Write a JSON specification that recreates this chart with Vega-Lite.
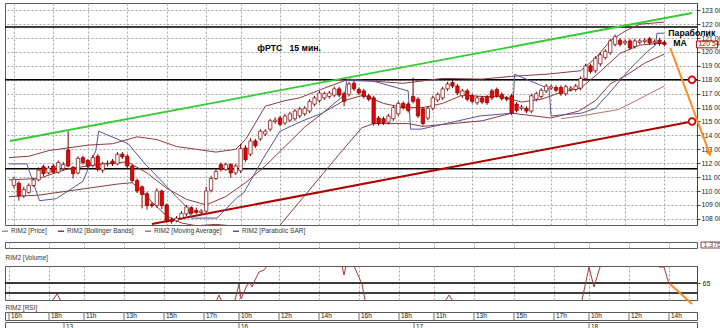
{
"$schema": "https://vega.github.io/schema/vega-lite/v6.json",
"background": "white",
"padding": {"left": 3, "top": 2, "right": 5, "bottom": -3},
"spacing": 4,
"resolve": {"legend": {"color": "independent"}},
"config": {"view": {"stroke": "#5a5a5a", "strokeWidth": 1}, "font": "Liberation Sans", "axis": {"labelOverlap": false, "labelBound": false}},
"datasets": {
"c": [
{"i":-11,"o":110400,"h":111000,"l":110200,"c":110850},
{"i":-10,"o":110550,"h":110700,"l":109300,"c":109650},
{"i":-9,"o":109650,"h":110300,"l":109500,"c":110100},
{"i":-8,"o":109900,"h":110550,"l":109800,"c":110400},
{"i":-7,"o":110400,"h":110950,"l":110300,"c":110800},
{"i":-6,"o":110800,"h":111700,"l":110700,"c":111500},
{"i":-5,"o":111750,"h":111900,"l":111100,"c":111250},
{"i":-4,"o":111300,"h":111800,"l":111200,"c":111650},
{"i":-3,"o":111800,"h":111950,"l":111250,"c":111350},
{"i":-2,"o":111350,"h":112200,"l":111250,"c":112050},
{"i":-1,"o":111600,"h":112100,"l":111500,"c":111900},
{"i":0,"o":112950,"h":114300,"l":111700,"c":111800},
{"i":1,"o":111700,"h":111800,"l":110900,"c":111250},
{"i":2,"o":111300,"h":112500,"l":111200,"c":112350},
{"i":3,"o":112400,"h":112550,"l":111900,"c":112050},
{"i":4,"o":112200,"h":112300,"l":111600,"c":111800},
{"i":5,"o":111850,"h":112600,"l":111700,"c":112400},
{"i":6,"o":112500,"h":112650,"l":111400,"c":111550},
{"i":7,"o":111500,"h":112100,"l":111300,"c":111950},
{"i":8,"o":111950,"h":112200,"l":111750,"c":112000},
{"i":9,"o":112150,"h":112300,"l":111800,"c":111950},
{"i":10,"o":111950,"h":112800,"l":111850,"c":112650},
{"i":11,"o":112650,"h":112800,"l":112300,"c":112450},
{"i":12,"o":112500,"h":112650,"l":111650,"c":111800},
{"i":13,"o":111800,"h":111900,"l":110600,"c":110750},
{"i":14,"o":110750,"h":110900,"l":109850,"c":110000},
{"i":15,"o":110300,"h":110400,"l":108750,"c":109750},
{"i":16,"o":109800,"h":109950,"l":108650,"c":108950},
{"i":17,"o":109050,"h":109200,"l":108800,"c":108950},
{"i":18,"o":108950,"h":110200,"l":108800,"c":110000},
{"i":19,"o":110000,"h":110100,"l":108700,"c":108950},
{"i":20,"o":109000,"h":109100,"l":107700,"c":107850},
{"i":21,"o":107950,"h":108100,"l":107650,"c":107800},
{"i":22,"o":107850,"h":108200,"l":107750,"c":108050},
{"i":23,"o":108050,"h":108550,"l":107950,"c":108400},
{"i":24,"o":108350,"h":109000,"l":108200,"c":108850},
{"i":25,"o":108800,"h":108900,"l":108300,"c":108400},
{"i":26,"o":108600,"h":108800,"l":108350,"c":108450},
{"i":27,"o":108450,"h":108700,"l":108350,"c":108550},
{"i":28,"o":108550,"h":110300,"l":108450,"c":110000},
{"i":29,"o":110050,"h":111100,"l":109900,"c":110900},
{"i":30,"o":110900,"h":111600,"l":110800,"c":111400},
{"i":31,"o":111900,"h":112050,"l":111400,"c":111550},
{"i":32,"o":111550,"h":112050,"l":111450,"c":111900},
{"i":33,"o":111900,"h":112000,"l":110950,"c":111300},
{"i":34,"o":111300,"h":111950,"l":111150,"c":111800},
{"i":35,"o":111450,"h":113400,"l":111300,"c":113050},
{"i":36,"o":113100,"h":113300,"l":112100,"c":112250},
{"i":37,"o":112650,"h":113800,"l":112500,"c":113600},
{"i":38,"o":113600,"h":113750,"l":113100,"c":113250},
{"i":39,"o":113750,"h":114450,"l":113600,"c":114300},
{"i":40,"o":114100,"h":114450,"l":113950,"c":114300},
{"i":41,"o":114450,"h":115200,"l":114300,"c":115050},
{"i":42,"o":115000,"h":115300,"l":114850,"c":115100},
{"i":43,"o":115250,"h":115400,"l":114650,"c":114800},
{"i":44,"o":114900,"h":115550,"l":114750,"c":115400},
{"i":45,"o":115100,"h":115700,"l":114950,"c":115550},
{"i":46,"o":115200,"h":115900,"l":115050,"c":115750},
{"i":47,"o":115400,"h":116050,"l":115250,"c":115900},
{"i":48,"o":115550,"h":116100,"l":115400,"c":115950},
{"i":49,"o":115750,"h":116600,"l":115600,"c":116450},
{"i":50,"o":116250,"h":116850,"l":116100,"c":116700},
{"i":51,"o":116500,"h":117200,"l":116350,"c":117050},
{"i":52,"o":116700,"h":117150,"l":116550,"c":117000},
{"i":53,"o":116800,"h":117200,"l":116650,"c":117050},
{"i":54,"o":116900,"h":117500,"l":116750,"c":117350},
{"i":55,"o":117350,"h":117500,"l":116750,"c":116900},
{"i":56,"o":117000,"h":117150,"l":116100,"c":116450},
{"i":57,"o":116950,"h":117850,"l":116800,"c":117700},
{"i":58,"o":117750,"h":117950,"l":117200,"c":117350},
{"i":59,"o":117300,"h":117450,"l":116900,"c":117050},
{"i":60,"o":117200,"h":117350,"l":116650,"c":116800},
{"i":61,"o":116850,"h":117000,"l":116450,"c":116600},
{"i":62,"o":116700,"h":116850,"l":114700,"c":114850},
{"i":63,"o":115250,"h":115400,"l":114700,"c":114850},
{"i":64,"o":115200,"h":115350,"l":114750,"c":114900},
{"i":65,"o":114950,"h":115550,"l":114800,"c":115400},
{"i":66,"o":115200,"h":116150,"l":115050,"c":116000},
{"i":67,"o":115550,"h":116450,"l":115400,"c":116300},
{"i":68,"o":116300,"h":116450,"l":115850,"c":116000},
{"i":69,"o":116250,"h":116400,"l":115650,"c":115800},
{"i":70,"o":116800,"h":118150,"l":116300,"c":116450},
{"i":71,"o":116600,"h":116750,"l":115250,"c":115400},
{"i":72,"o":115900,"h":116050,"l":114700,"c":114850},
{"i":73,"o":115250,"h":116100,"l":115100,"c":115950},
{"i":74,"o":115950,"h":116850,"l":115800,"c":116700},
{"i":75,"o":116550,"h":117100,"l":116400,"c":116950},
{"i":76,"o":116700,"h":117500,"l":116550,"c":117350},
{"i":77,"o":117350,"h":117850,"l":117200,"c":117700},
{"i":78,"o":117800,"h":118100,"l":117400,"c":117550},
{"i":79,"o":117550,"h":117700,"l":116900,"c":117050},
{"i":80,"o":116850,"h":117350,"l":116700,"c":117200},
{"i":81,"o":117200,"h":117350,"l":116450,"c":116600},
{"i":82,"o":116850,"h":117000,"l":116300,"c":116450},
{"i":83,"o":116350,"h":116850,"l":116200,"c":116700},
{"i":84,"o":116700,"h":116850,"l":116250,"c":116400},
{"i":85,"o":116750,"h":116900,"l":116200,"c":116350},
{"i":86,"o":117200,"h":117350,"l":116550,"c":116700},
{"i":87,"o":117300,"h":117450,"l":116700,"c":116850},
{"i":88,"o":116950,"h":117100,"l":116500,"c":116650},
{"i":89,"o":116700,"h":116850,"l":116450,"c":116600},
{"i":90,"o":116850,"h":117000,"l":115450,"c":115600},
{"i":91,"o":116250,"h":116400,"l":115650,"c":115800},
{"i":92,"o":115950,"h":116200,"l":115800,"c":116050},
{"i":93,"o":115950,"h":116100,"l":115600,"c":115750},
{"i":94,"o":115750,"h":117000,"l":115600,"c":116850},
{"i":95,"o":116600,"h":117150,"l":116450,"c":117000},
{"i":96,"o":116800,"h":117400,"l":116650,"c":117250},
{"i":97,"o":117200,"h":117700,"l":117050,"c":117550},
{"i":98,"o":117400,"h":117650,"l":117250,"c":117500},
{"i":99,"o":117450,"h":117600,"l":117100,"c":117250},
{"i":100,"o":117450,"h":117600,"l":116850,"c":117000},
{"i":101,"o":117000,"h":117650,"l":116850,"c":117500},
{"i":102,"o":117300,"h":117550,"l":117150,"c":117400},
{"i":103,"o":117300,"h":117700,"l":117150,"c":117550},
{"i":104,"o":117400,"h":118250,"l":117250,"c":118100},
{"i":105,"o":118100,"h":119150,"l":117950,"c":119000},
{"i":106,"o":119000,"h":119150,"l":118450,"c":118600},
{"i":107,"o":118650,"h":119700,"l":118500,"c":119550},
{"i":108,"o":119150,"h":119950,"l":119000,"c":119800},
{"i":109,"o":119600,"h":120200,"l":119450,"c":120050},
{"i":110,"o":119950,"h":120950,"l":119800,"c":120800},
{"i":111,"o":120550,"h":121250,"l":120400,"c":121100},
{"i":112,"o":120850,"h":121000,"l":120400,"c":120550},
{"i":113,"o":120650,"h":120900,"l":120500,"c":120750},
{"i":114,"o":120800,"h":120950,"l":120150,"c":120300},
{"i":115,"o":120400,"h":120950,"l":120250,"c":120800},
{"i":116,"o":120700,"h":120950,"l":120550,"c":120800},
{"i":117,"o":120750,"h":121000,"l":120600,"c":120850},
{"i":118,"o":120950,"h":121100,"l":120500,"c":120650},
{"i":119,"o":120650,"h":120900,"l":120500,"c":120750},
{"i":120,"o":120850,"h":121000,"l":120450,"c":120600},
{"i":121,"o":120700,"h":120850,"l":120400,"c":120540}
],
"bbu": [{"i":-12,"v":112400},{"i":-8,"v":112500},{"i":-4,"v":112900},{"i":0,"v":113100},{"i":4,"v":113300},{"i":9,"v":113400},{"i":14,"v":113900},{"i":18,"v":113700},{"i":22,"v":113200},{"i":26,"v":113000},{"i":30,"v":112800},{"i":34,"v":113000},{"i":36,"v":113700},{"i":40,"v":116100},{"i":44,"v":116500},{"i":47,"v":116700},{"i":52,"v":117400},{"i":57,"v":118050},{"i":62,"v":117900},{"i":68,"v":117750},{"i":76,"v":118100},{"i":84,"v":118050},{"i":90,"v":118250},{"i":97,"v":118400},{"i":104,"v":118650},{"i":107,"v":119550},{"i":110,"v":120800},{"i":113,"v":121500},{"i":116,"v":122000},{"i":121,"v":122150}],
"bbm": [{"i":-12,"v":110800},{"i":-6,"v":110900},{"i":0,"v":111600},{"i":6,"v":111900},{"i":12,"v":112100},{"i":16,"v":111300},{"i":20,"v":110200},{"i":24,"v":109400},{"i":28,"v":109000},{"i":32,"v":109600},{"i":36,"v":110600},{"i":40,"v":111800},{"i":44,"v":113200},{"i":48,"v":114600},{"i":52,"v":115700},{"i":56,"v":116500},{"i":60,"v":116900},{"i":64,"v":116300},{"i":68,"v":116000},{"i":72,"v":116000},{"i":76,"v":116300},{"i":80,"v":116900},{"i":84,"v":116800},{"i":88,"v":116800},{"i":92,"v":116400},{"i":96,"v":116600},{"i":100,"v":117100},{"i":104,"v":117400},{"i":108,"v":118600},{"i":112,"v":119900},{"i":116,"v":120500},{"i":121,"v":120650}],
"bbl": [{"i":-12,"v":109600},{"i":-6,"v":109700},{"i":0,"v":110000},{"i":6,"v":110300},{"i":10,"v":110500},{"i":13,"v":110600},{"i":15,"v":110000},{"i":17,"v":109200},{"i":20,"v":108200},{"i":23,"v":107700},{"i":26,"v":107500},{"i":30,"v":107600},{"i":33,"v":107500},{"i":36,"v":107000},{"i":39,"v":106500},{"i":41,"v":106600},{"i":43,"v":107550},{"i":47.6,"v":109500},{"i":51.6,"v":111200},{"i":55.6,"v":112900},{"i":59.6,"v":114550},{"i":62,"v":114850},{"i":69,"v":114850},{"i":72,"v":114650},{"i":84,"v":115050},{"i":90,"v":115600},{"i":98,"v":115250},{"i":103.6,"v":115750},{"i":107,"v":116500},{"i":110,"v":117700},{"i":113.6,"v":118400},{"i":117,"v":119200},{"i":121,"v":119850}],
"ma": [{"i":100,"v":115200},{"i":104,"v":115400},{"i":111.6,"v":115850},{"i":115,"v":116450},{"i":118.2,"v":117050},{"i":121,"v":117550}],
"sar": [{"i":-12,"v":111950},{"i":-8.4,"v":111950},{"i":-5.8,"v":109300},{"i":-2.4,"v":109450},{"i":3,"v":110700},{"i":5.6,"v":112900},{"i":6.2,"v":114300},{"i":12.2,"v":113400},{"i":15.6,"v":111950},{"i":19,"v":110700},{"i":22.2,"v":109500},{"i":24.2,"v":108800},{"i":25,"v":108050},{"i":30.2,"v":108050},{"i":34.2,"v":109500},{"i":35.6,"v":109850},{"i":39.6,"v":112350},{"i":43,"v":114300},{"i":47.6,"v":115050},{"i":51.6,"v":115600},{"i":56.2,"v":116950},{"i":56.5,"v":117950},{"i":62,"v":117900},{"i":69,"v":117200},{"i":69.5,"v":114450},{"i":71.6,"v":114450},{"i":83.6,"v":115400},{"i":90.2,"v":115600},{"i":90.6,"v":118400},{"i":97.6,"v":117350},{"i":98,"v":115400},{"i":104.2,"v":115600},{"i":107,"v":115950},{"i":110.2,"v":117200},{"i":112.2,"v":118050},{"i":115,"v":119150},{"i":117.6,"v":120050},{"i":119.2,"v":120500},{"i":119.5,"v":121350},{"i":121,"v":121350}],
"rsi": [{"i":-11.8,"v":40},{"i":-4,"v":42},{"i":-2.4,"v":47},{"i":-1.4,"v":54},{"i":-0.6,"v":47},{"i":1,"v":40},{"i":10,"v":38},{"i":20,"v":35},{"i":29,"v":40},{"i":30.4,"v":46},{"i":31,"v":53},{"i":31.6,"v":46},{"i":33,"v":42},{"i":34.2,"v":48},{"i":35,"v":64},{"i":35.4,"v":49},{"i":36.6,"v":63},{"i":37.2,"v":65},{"i":37.6,"v":61},{"i":38.2,"v":68},{"i":39,"v":76},{"i":40,"v":78},{"i":40.6,"v":82},{"i":41.5,"v":88},{"i":42.6,"v":86},{"i":43,"v":81},{"i":43.4,"v":86},{"i":50,"v":92},{"i":55,"v":88},{"i":55.6,"v":82},{"i":56,"v":73},{"i":56.4,"v":82},{"i":57,"v":88},{"i":58,"v":82},{"i":59.6,"v":64},{"i":60.2,"v":48},{"i":61,"v":40},{"i":66,"v":30},{"i":72,"v":35},{"i":76,"v":45},{"i":77,"v":53},{"i":78,"v":45},{"i":85,"v":35},{"i":95,"v":38},{"i":103,"v":44},{"i":103.6,"v":48},{"i":105,"v":81},{"i":106,"v":61},{"i":107.2,"v":81},{"i":108,"v":88},{"i":113.6,"v":86},{"i":114,"v":81},{"i":114.4,"v":86},{"i":118,"v":88},{"i":119,"v":81},{"i":120,"v":81},{"i":121,"v":64}],
"hl": [{"v":121800},{"v":118000},{"v":111600}],
"tg": [{"i":-11.8,"v":113597},{"i":126.6,"v":122806}],
"tr": [{"i":17,"v":107627},{"i":126.6,"v":115000}],
"or": [{"i":122.2,"v":120288},{"i":130.2,"v":112662}],
"ci": [{"i":126.6,"v":118000},{"i":126.6,"v":115000}],
"tx": [{"i":38.4,"v":120288,"t":"фРТС\u00a0\u00a0\u00a015 мин."},{"i":121.8,"v":121367,"t":"Параболик"},{"i":122.8,"v":120647,"t":"MA"}],
"hr": [{"i":-11,"t":"16h"},{"i":-3,"t":"18h"},{"i":4,"t":"11h"},{"i":12,"t":"13h"},{"i":20,"t":"15h"},{"i":28,"t":"17h"},{"i":35,"t":"10h"},{"i":43,"t":"12h"},{"i":51,"t":"14h"},{"i":59,"t":"16h"},{"i":67,"t":"18h"},{"i":74,"t":"11h"},{"i":82,"t":"13h"},{"i":90,"t":"15h"},{"i":98,"t":"17h"},{"i":105,"t":"10h"},{"i":113,"t":"12h"},{"i":121,"t":"14h"}],
"dy": [{"i":0,"t":"13"},{"i":35,"t":"16"},{"i":70,"t":"17"},{"i":105,"t":"18"}]
},
"vconcat": [
{
"width": 692, "height": 222,
"encoding": {"y": {"type": "quantitative", "title": null, "scale": {"domain": [107554, 123525], "nice": false, "zero": false},
  "axis": {"orient": "right", "values": [108000,109000,110000,111000,112000,113000,114000,115000,116000,117000,118000,119000,120000,121000,122000,123000], "tickCount": 16, "labelExpr": "replace(format(datum.value, ','), ',', ' ')", "labelOverlap": false, "labelBound": false, "grid": true, "gridDash": [2,2], "gridColor": "#a6a6a6", "domainColor": "#444", "tickColor": "#444", "tickSize": 3, "labelPadding": 1, "labelFontSize": 6.8, "labelColor": "#222", "labelFont": "Liberation Sans"}}},
"layer": [
{"data": {"name": "hl"}, "mark": {"type": "rule", "color": "#000000", "strokeWidth": 1.4},
 "encoding": {"y": {"field": "v"}}},
{"data": {"name": "tg"}, "mark": {"type": "line", "color": "#33cc33", "strokeWidth": 1.8},
 "encoding": {"x": {"field": "i", "type": "quantitative", "title": null, "scale": {"domain": [-11.8, 126.6], "nice": false, "zero": false},
  "axis": {"values": [-11,-3,4,12,20,28,35,43,51,59,67,74,82,90,98,105,113,121], "grid": true, "gridDash": [2,2], "gridColor": "#a6a6a6", "labels": false, "ticks": false, "domain": false}},
  "y": {"field": "v"}}},
{"data": {"name": "tr"}, "mark": {"type": "line", "color": "#b00000", "strokeWidth": 2},
 "encoding": {"x": {"field": "i", "type": "quantitative", "title": null}, "y": {"field": "v"}}},
{"data": {"name": "bbu"}, "mark": {"type": "line", "strokeWidth": 1, "clip": true},
 "encoding": {"x": {"field": "i", "type": "quantitative", "title": null}, "y": {"field": "v"},
  "color": {"datum": "RIM2 [Bollinger Bands]", "type": "nominal",
   "scale": {"domain": ["RIM2 [Price]", "RIM2 [Bollinger Bands]", "RIM2 [Moving Average]", "RIM2 [Parabolic SAR]"], "range": ["#9a9a9a", "#8e3b3b", "#b87474", "#55559a"]},
   "legend": {"orient": "bottom", "direction": "horizontal", "title": null, "symbolType": "stroke", "symbolSize": 36, "symbolStrokeWidth": 1.5, "symbolOffset": -4, "labelFontSize": 6.5, "labelFont": "Liberation Sans", "labelColor": "#333", "labelOffset": 2, "columnPadding": 8, "offset": 2, "padding": 0}}}},
{"data": {"name": "bbm"}, "mark": {"type": "line", "strokeWidth": 1, "clip": true},
 "encoding": {"x": {"field": "i", "type": "quantitative", "title": null}, "y": {"field": "v"}, "color": {"datum": "RIM2 [Bollinger Bands]", "type": "nominal"}}},
{"data": {"name": "bbl"}, "mark": {"type": "line", "strokeWidth": 1, "clip": true},
 "encoding": {"x": {"field": "i", "type": "quantitative", "title": null}, "y": {"field": "v"}, "color": {"datum": "RIM2 [Bollinger Bands]", "type": "nominal"}}},
{"data": {"name": "ma"}, "mark": {"type": "line", "strokeWidth": 1, "clip": true},
 "encoding": {"x": {"field": "i", "type": "quantitative", "title": null}, "y": {"field": "v"}, "color": {"datum": "RIM2 [Moving Average]", "type": "nominal"}}},
{"data": {"name": "sar"}, "mark": {"type": "line", "strokeWidth": 1, "clip": true},
 "encoding": {"x": {"field": "i", "type": "quantitative", "title": null}, "y": {"field": "v"}, "color": {"datum": "RIM2 [Parabolic SAR]", "type": "nominal"}}},
{"data": {"name": "c"}, "mark": {"type": "rule", "color": "#7a0000", "strokeWidth": 1},
 "encoding": {"x": {"field": "i", "type": "quantitative", "title": null}, "y": {"field": "l"}, "y2": {"field": "h"}}},
{"data": {"name": "c"}, "mark": {"type": "bar", "width": 3.4, "stroke": "#7a0000", "strokeWidth": 0.7},
 "encoding": {"x": {"field": "i", "type": "quantitative", "title": null}, "y": {"field": "o"}, "y2": {"field": "c"},
  "fill": {"condition": {"test": "datum.c > datum.o", "value": "#ffffff"}, "value": "#ee0000"}}},
{"data": {"name": "or"}, "mark": {"type": "line", "color": "#ff8a1c", "strokeWidth": 2, "clip": false},
 "encoding": {"x": {"field": "i", "type": "quantitative", "title": null}, "y": {"field": "v"}}},
{"data": {"name": "or"}, "transform": [{"filter": "datum.i > 130"}], "mark": {"type": "point", "shape": "triangle-down", "filled": true, "color": "#ff8a1c", "size": 40, "angle": -21, "opacity": 1},
 "encoding": {"x": {"field": "i", "type": "quantitative", "title": null}, "y": {"field": "v"}}},
{"data": {"name": "ci"}, "mark": {"type": "point", "shape": "circle", "filled": true, "fill": "#ffffff", "stroke": "#e00000", "strokeWidth": 1.8, "size": 45, "opacity": 1},
 "encoding": {"x": {"field": "i", "type": "quantitative", "title": null}, "y": {"field": "v"}}},
{"data": {"name": "tx"}, "mark": {"type": "text", "align": "left", "baseline": "middle", "fontWeight": "bold", "fontSize": 8.7, "font": "Liberation Sans", "color": "#000000"},
 "encoding": {"x": {"field": "i", "type": "quantitative", "title": null}, "y": {"field": "v"}, "text": {"field": "t"}}},
{"data": {"values": [{"i": 127.5, "i2": 131.8, "v": 120300, "v2": 120790}]}, "mark": {"type": "rect", "fill": "#ffffff", "stroke": "#c00000", "strokeWidth": 1},
 "encoding": {"x": {"field": "i", "type": "quantitative", "title": null}, "x2": {"field": "i2"}, "y": {"field": "v"}, "y2": {"field": "v2"}}},
{"data": {"values": [{"i": 127.9, "v": 120540, "t": "120 540"}]}, "mark": {"type": "text", "align": "left", "baseline": "middle", "fontSize": 7, "font": "Liberation Sans", "color": "#b00000"},
 "encoding": {"x": {"field": "i", "type": "quantitative", "title": null}, "y": {"field": "v"}, "text": {"field": "t"}}}
]
},
{
"width": 692, "height": 6,
"layer": [
{"data": {"values": [{"i": 127.4, "i2": 131.6}]}, "mark": {"type": "rect", "fill": "#ffffff", "stroke": "#9a4040", "strokeWidth": 1},
 "encoding": {"x": {"field": "i", "type": "quantitative", "scale": {"domain": [-11.8, 126.6], "nice": false, "zero": false},
  "axis": {"title": "RIM2 [Volume]", "titleAnchor": "start", "titleAlign": "left", "titlePadding": 6, "titleFontSize": 6.5, "titleFontWeight": "normal", "titleColor": "#333", "titleFont": "Liberation Sans",
   "values": [-11,-3,4,12,20,28,35,43,51,59,67,74,82,90,98,105,113,121], "grid": true, "gridDash": [2,2], "gridColor": "#a6a6a6", "labels": false, "ticks": false, "domain": false}},
  "x2": {"field": "i2"}}},
{"data": {"values": [{"i": 127.9, "t": "1.376"}]}, "mark": {"type": "text", "align": "left", "baseline": "middle", "fontSize": 7, "font": "Liberation Sans", "color": "#555"},
 "encoding": {"x": {"field": "i", "type": "quantitative"}, "text": {"field": "t"}}}
]
},
{
"spacing": 0,
"vconcat": [
{
"width": 692, "height": 34,
"layer": [
{"data": {"values": [{"v": 65}, {"v": 55}]}, "mark": {"type": "rule", "color": "#000000", "strokeWidth": 1.3},
 "encoding": {"y": {"field": "v", "type": "quantitative", "title": null, "scale": {"domain": [48, 82], "nice": false, "zero": false},
  "axis": {"orient": "right", "values": [65], "grid": true, "gridDash": [2,2], "gridColor": "#a6a6a6", "domainColor": "#444", "tickColor": "#444", "tickSize": 3, "labelPadding": 2, "labelFontSize": 7, "labelColor": "#222", "labelFont": "Liberation Sans"}}}},
{"data": {"name": "rsi"}, "mark": {"type": "line", "color": "#a33a3a", "strokeWidth": 1, "clip": true},
 "encoding": {"x": {"field": "i", "type": "quantitative", "scale": {"domain": [-11.8, 126.6], "nice": false, "zero": false},
  "axis": {"title": "RIM2 [RSI]", "titleAnchor": "start", "titleAlign": "left", "titlePadding": 4, "titleFontSize": 6.5, "titleFontWeight": "normal", "titleColor": "#333", "titleFont": "Liberation Sans",
   "values": [-11,-3,4,12,20,28,35,43,51,59,67,74,82,90,98,105,113,121], "grid": true, "gridDash": [2,2], "gridColor": "#a6a6a6", "labels": false, "ticks": false, "domain": false}},
  "y": {"field": "v", "type": "quantitative", "title": null}}},
{"data": {"values": [{"i": 121.2, "v": 64}, {"i": 125.6, "v": 44}]}, "mark": {"type": "line", "color": "#ff8a1c", "strokeWidth": 2, "clip": false},
 "encoding": {"x": {"field": "i", "type": "quantitative"}, "y": {"field": "v", "type": "quantitative", "title": null}}}
]
},
{"width": 692, "height": 8,
 "layer": [
 {"data": {"name": "hr"}, "mark": {"type": "rule", "color": "#707070", "strokeWidth": 1},
  "encoding": {"x": {"field": "i", "type": "quantitative", "axis": null, "scale": {"domain": [-11.8, 126.6], "nice": false, "zero": false}}}},
 {"data": {"name": "hr"}, "mark": {"type": "text", "align": "left", "baseline": "middle", "dx": 2, "fontSize": 6.5, "font": "Liberation Sans", "color": "#111"},
  "encoding": {"x": {"field": "i", "type": "quantitative", "axis": null}, "text": {"field": "t"}}}
 ]},
{"width": 692, "height": 9,
 "layer": [
 {"data": {"name": "dy"}, "mark": {"type": "rule", "color": "#707070", "strokeWidth": 1},
  "encoding": {"x": {"field": "i", "type": "quantitative", "axis": null, "scale": {"domain": [-11.8, 126.6], "nice": false, "zero": false}}}},
 {"data": {"name": "dy"}, "mark": {"type": "text", "align": "left", "baseline": "middle", "dx": 2, "fontSize": 6.5, "font": "Liberation Sans", "color": "#111"},
  "encoding": {"x": {"field": "i", "type": "quantitative", "axis": null}, "text": {"field": "t"}}}
 ]}
]
}
]
}
